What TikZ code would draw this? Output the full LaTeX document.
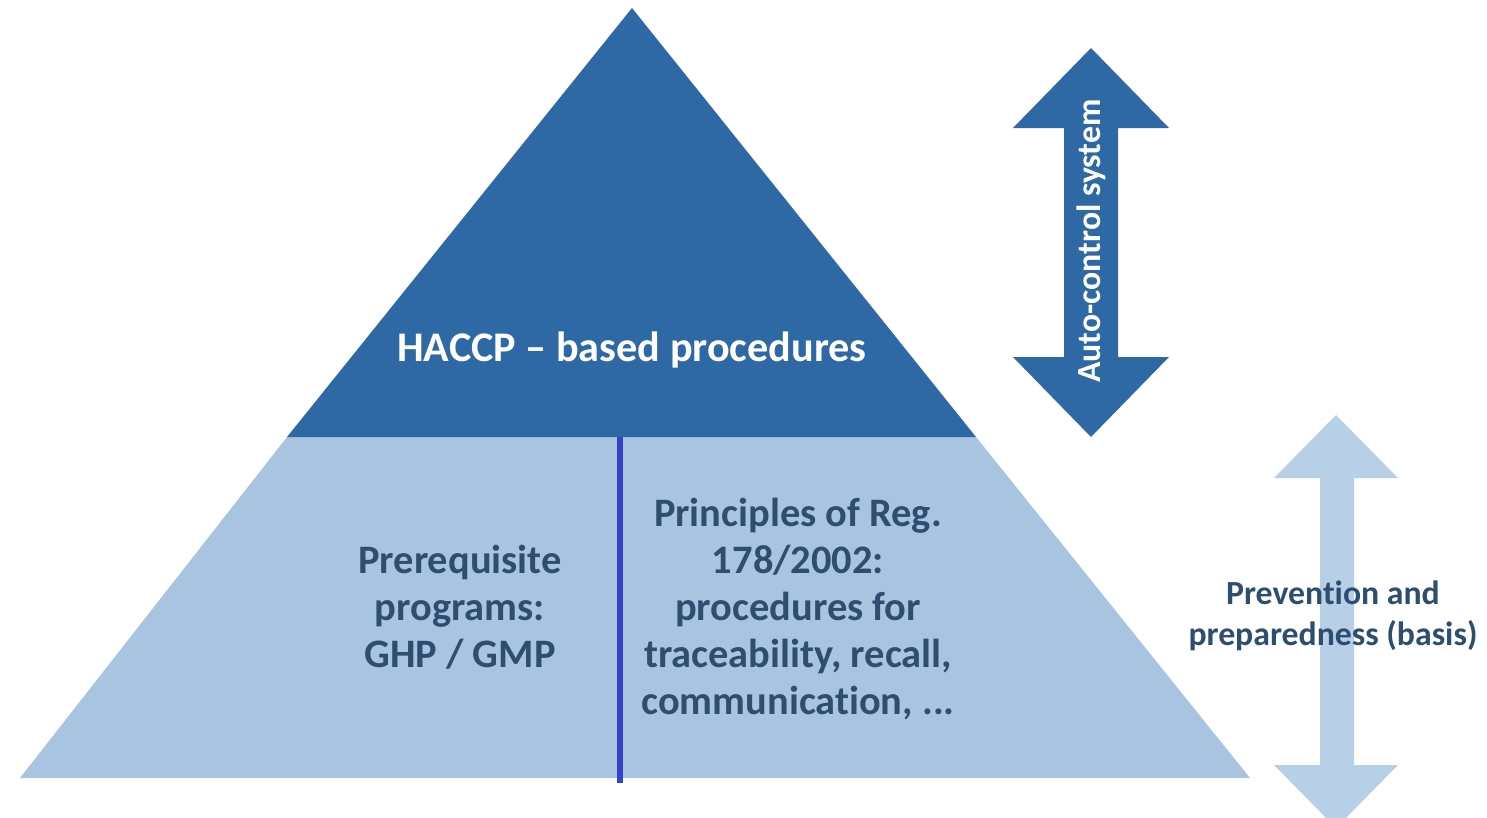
\documentclass[tikz,border=0pt]{standalone}
\usepackage{fontspec}
\setmainfont{Carlito}[Ligatures=NoCommon]
\usepackage{tikz}
\usetikzlibrary{positioning}

\definecolor{haccpblue}{RGB}{46,104,165}
\definecolor{baseblue}{RGB}{169,196,224}
\definecolor{arrowlight}{RGB}{184,207,232}
\definecolor{textblue}{RGB}{46,78,112}
\definecolor{divider}{RGB}{55,65,205}

\begin{document}
\begin{tikzpicture}[
        x=0.01cm, y=-0.01cm,
        pyrtext/.style={align=center, font=\bfseries\fontsize{11.5}{13.4}\selectfont, text=textblue, inner sep=0pt},
        toptext/.style={font=\bfseries\fontsize{12}{14}\selectfont, text=white, inner sep=0pt},
        sidetext/.style={align=center, font=\bfseries\fontsize{9.6}{11.6}\selectfont, text=textblue, inner sep=0pt}
    ]
        \useasboundingbox (0,0) rectangle (1487,818);

        % Pyramid
        \coordinate (apex) at (632,8);
        \coordinate (midleft) at (287,437);
        \coordinate (midright) at (976,437);
        \fill [baseblue] (midleft) -- (midright) -- (1250,778) -- (20,778) -- cycle;
        \fill [haccpblue] (apex) -- (midright) -- (midleft) -- cycle;

        % Divider
        \coordinate (divtop) at (620,437);
        \coordinate (divbot) at (620,783);
        \draw [divider, line width=1.6pt] (divtop) -- (divbot);

        % Auto-control arrow
        \fill [haccpblue] (1091,48) -- (1169,128) -- (1118,128) -- (1118,357) -- (1169,357)
            -- (1091,437) -- (1013,357) -- (1064,357) -- (1064,128) -- (1013,128) -- cycle;

        % Prevention arrow
        \fill [arrowlight] (1336,415) -- (1398,478) -- (1354,478) -- (1354,765) -- (1398,765)
            -- (1336,828) -- (1274,765) -- (1320,765) -- (1320,478) -- (1274,478) -- cycle;

        % Texts
        \node [toptext] (haccp) at (632,350) {HACCP – based procedures};
        \node [pyrtext] (prereq) at (460,607) {Prerequisite\\programs:\\GHP / GMP};
        \node [pyrtext] (principles) at (798,609) {Principles of Reg.\\178/2002:\\procedures for\\traceability, recall,\\communication, ...};
        \node [sidetext] (prevention) at (1333,616) {Prevention and\\preparedness (basis)};
        \node [sidetext, text=white, rotate=90] (autocontrol) at (1091,241) {Auto-control system};

    \end{tikzpicture}
\end{document}
